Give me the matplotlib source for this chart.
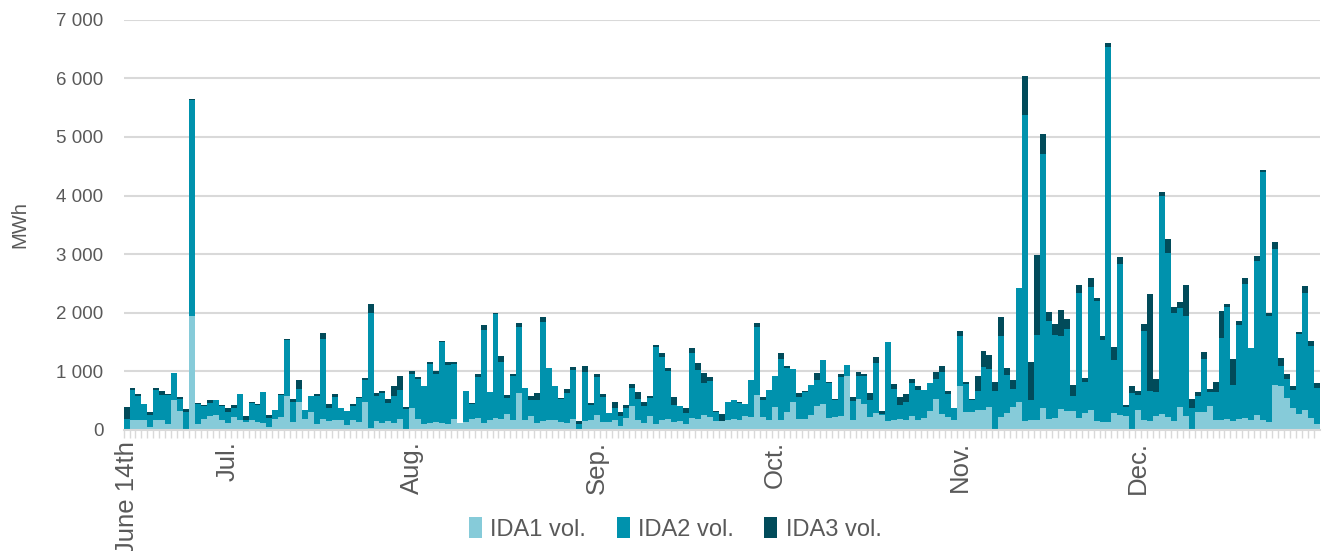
import numpy as np
import pandas as pd
from matplotlib import pyplot as plt
from matplotlib.ticker import FuncFormatter, FixedLocator

plt.rcParams['font.family'] = ['Liberation Sans', 'DejaVu Sans']

# daily dates, June 14th to Dec 31st
dates = pd.date_range('2021-06-14', '2021-12-31', freq='D')

tick_dates = ['2021-06-14', '2021-07-01', '2021-08-01', '2021-09-01',
              '2021-10-01', '2021-11-01', '2021-12-01']
tick_labels = ['June 14th', 'Jul.', 'Aug.', 'Sep.', 'Oct.', 'Nov.', 'Dec.']

# MWh per day
ida1 = [0, 165, 170, 160, 40, 170, 170, 97, 512, 324,
        20, 1935, 97, 182, 239, 256, 170, 108, 222, 170,
        140, 170, 137, 114, 40, 182, 222, 569, 125, 467,
        176, 307, 97, 188, 148, 160, 160, 80, 160, 130,
        472, 30, 142, 114, 142, 120, 188, 10, 370, 176,
        91, 114, 130, 108, 97, 182, 120, 137, 182, 199,
        114, 170, 199, 188, 262, 170, 632, 170, 228, 120,
        154, 165, 165, 137, 114, 182, 10, 142, 170, 245,
        125, 130, 170, 68, 199, 398, 160, 108, 228, 91,
        170, 188, 125, 154, 102, 205, 176, 256, 216, 142,
        142, 170, 182, 165, 233, 211, 592, 222, 160, 387,
        170, 296, 478, 188, 188, 256, 410, 444, 199, 216,
        228, 922, 170, 529, 432, 222, 285, 256, 142, 165,
        176, 160, 239, 160, 199, 313, 518, 273, 216, 170,
        740, 296, 307, 330, 341, 387, 0, 216, 284, 387,
        467, 142, 171, 159, 376, 182, 205, 353, 313, 313,
        199, 285, 330, 142, 131, 131, 285, 256, 239, 10,
        341, 171, 142, 239, 273, 211, 142, 387, 239, 0,
        296, 307, 398, 159, 171, 182, 148, 182, 193, 171,
        250, 171, 137, 768, 740, 546, 376, 262, 330, 199,
        102]

ida2 = [180, 506, 410, 280, 216, 512, 427, 495, 461, 205,
        290, 3700, 347, 228, 222, 245, 239, 199, 154, 440,
        20, 285, 285, 524, 160, 148, 376, 961, 347, 233,
        159, 262, 472, 1366, 216, 393, 216, 239, 245, 410,
        381, 1970, 427, 518, 313, 450, 495, 341, 580, 683,
        649, 1001, 825, 1394, 1007, 944, 0, 518, 262, 694,
        1582, 467, 1775, 973, 285, 740, 1121, 541, 285, 381,
        1690, 882, 580, 393, 512, 831, 85, 837, 256, 649,
        432, 154, 205, 171, 165, 319, 364, 296, 319, 1320,
        1070, 808, 296, 250, 193, 1110, 853, 541, 615, 160,
        5, 296, 324, 290, 205, 643, 1161, 285, 518, 523,
        1047, 751, 558, 364, 450, 512, 432, 751, 597, 296,
        671, 182, 313, 393, 489, 290, 859, 5, 1360, 535,
        245, 319, 563, 512, 484, 478, 353, 706, 387, 205,
        865, 489, 193, 336, 728, 654, 660, 1388, 654, 313,
        1952, 5235, 330, 1462, 4336, 1679, 1417, 1240, 1411, 267,
        2145, 523, 2111, 2065, 1400, 6405, 910, 2577, 148, 620,
        256, 1514, 512, 398, 3722, 2816, 1860, 1690, 1707, 370,
        273, 899, 245, 478, 1394, 1923, 620, 1599, 2293, 1218,
        2640, 4239, 1809, 2321, 353, 324, 296, 1366, 2014, 1235,
        615]

ida3 = [215, 40, 34, 0, 40, 34, 57, 17, 0, 34,
        45, 10, 17, 17, 45, 5, 10, 57, 51, 0,
        80, 23, 23, 0, 50, 0, 11, 17, 57, 154,
        0, 0, 34, 102, 74, 57, 0, 0, 40, 23,
        23, 150, 51, 23, 63, 176, 239, 34, 57, 34,
        0, 46, 46, 11, 51, 23, 0, 11, 11, 63,
        85, 11, 17, 97, 46, 40, 74, 0, 63, 125,
        74, 0, 0, 11, 68, 57, 63, 114, 34, 57,
        57, 0, 97, 68, 63, 63, 119, 63, 34, 34,
        68, 51, 137, 0, 80, 74, 114, 176, 74, 20,
        130, 0, 0, 11, 0, 0, 74, 57, 0, 0,
        91, 46, 0, 68, 23, 0, 131, 0, 17, 17,
        51, 0, 74, 68, 34, 108, 91, 68, 0, 85,
        142, 137, 57, 74, 0, 0, 119, 108, 51, 0,
        74, 23, 23, 245, 273, 239, 148, 319, 125, 142,
        0, 666, 649, 1366, 341, 142, 188, 455, 165, 182,
        131, 68, 154, 40, 74, 68, 222, 125, 40, 120,
        63, 125, 1656, 228, 68, 228, 91, 97, 523, 150,
        80, 119, 57, 171, 467, 46, 438, 85, 114, 11,
        80, 23, 51, 119, 137, 85, 80, 40, 119, 74,
        80]

c1, c2, c3 = '#86CBD9', '#0092AD', '#014B5A'
grey = '#D9D9D9'
txt = '#595959'

x = np.arange(len(dates))
a1 = np.array(ida1)
a2 = np.array(ida2)
a3 = np.array(ida3)

fig = plt.figure(figsize=(13.29, 5.51), dpi=100)
ax = fig.add_axes([0.093, 0.22, 0.900, 0.744])

ax.bar(x, a1, width=1.0, color=c1, linewidth=0, label='IDA1 vol.', zorder=2)
ax.bar(x, a2, width=1.0, bottom=a1, color=c2, linewidth=0, label='IDA2 vol.', zorder=2)
ax.bar(x, a3, width=1.0, bottom=a1 + a2, color=c3, linewidth=0, label='IDA3 vol.', zorder=2)

ax.set_xlim(-0.5, len(dates) - 0.5)
ax.set_ylim(0, 7000)
ax.set_yticks(np.arange(0, 7001, 1000))
ax.yaxis.set_major_formatter(FuncFormatter(lambda v, p: f'{int(v):,}'.replace(',', ' ')))
ax.grid(axis='y', color=grey, linewidth=1.5, zorder=0)
ax.set_axisbelow(True)

tick_pos = [dates.get_loc(pd.Timestamp(d)) for d in tick_dates]
ax.set_xticks(tick_pos)
ax.set_xticklabels(tick_labels, rotation=90)
ax.xaxis.set_minor_locator(FixedLocator(x - 0.5))

for s in ['top', 'right', 'left']:
    ax.spines[s].set_visible(False)
ax.spines['bottom'].set_color(grey)
ax.spines['bottom'].set_linewidth(1.5)

ax.tick_params(axis='y', length=0, labelsize=13.5, labelcolor=txt, pad=14.5)
ax.tick_params(axis='x', which='major', length=0, labelsize=18.5, labelcolor=txt, pad=8)
ax.tick_params(axis='x', which='minor', length=6, width=1, color=grey)

ax.set_ylabel('MWh', fontsize=14.5, color=txt, labelpad=19)

fig.legend(loc='center', bbox_to_anchor=(0.508, 0.04), ncol=3, frameon=False,
           fontsize=17, handlelength=0.55, handleheight=1.0, handletextpad=0.35,
           columnspacing=1.3, labelcolor=txt)

fig.savefig('out.png', dpi=100)
